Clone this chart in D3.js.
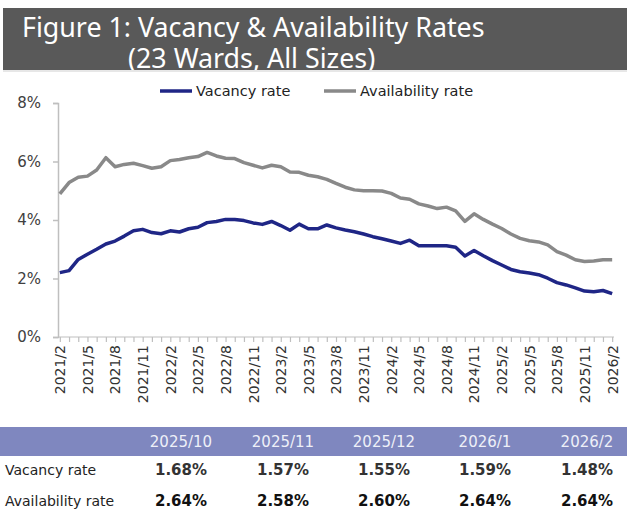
<!DOCTYPE html>
<html>
<head>
<meta charset="utf-8">
<script src="https://cdn.jsdelivr.net/npm/d3@7"></script>
<style>
  body { margin: 0; background: #fff; }
  svg { display: block; }
</style>
</head>
<body>
<div id="chart"></div>
<script>
// monthly categories 2021/2 .. 2026/2
const months = [];
for (let y = 2021, m = 2; y < 2026 || (y === 2026 && m <= 2); m++) {
    if (m > 12) { m = 1; y++; }
    months.push(y + "/" + m);
}

const vacancy = [2.20, 2.27, 2.65, 2.83, 3.00, 3.18, 3.28, 3.45, 3.63, 3.68, 3.57, 3.53, 3.63, 3.59, 3.70,
    3.75, 3.91, 3.95, 4.02, 4.02, 3.98, 3.90, 3.85, 3.95, 3.81, 3.65, 3.86, 3.70, 3.70, 3.83,
    3.73, 3.66, 3.60, 3.52, 3.43, 3.36, 3.28, 3.20, 3.31, 3.12, 3.12, 3.12, 3.12, 3.07, 2.77,
    2.96, 2.78, 2.61, 2.46, 2.31, 2.23, 2.19, 2.13, 2.01, 1.86, 1.78, 1.68, 1.57, 1.55, 1.59, 1.48];

const availability = [4.89, 5.28, 5.46, 5.50, 5.71, 6.13, 5.82, 5.90, 5.94, 5.86, 5.77, 5.82, 6.03, 6.07, 6.13,
    6.17, 6.31, 6.19, 6.11, 6.10, 5.96, 5.87, 5.78, 5.87, 5.82, 5.64, 5.63, 5.53, 5.48, 5.39,
    5.25, 5.12, 5.03, 5.00, 5.00, 4.99, 4.91, 4.75, 4.71, 4.55, 4.48, 4.39, 4.44, 4.31, 3.95,
    4.21, 4.02, 3.86, 3.71, 3.52, 3.37, 3.29, 3.25, 3.15, 2.92, 2.80, 2.64, 2.58, 2.60, 2.64, 2.64];

const yTicks = [0, 2, 4, 6, 8];

const tableMonths = ["2025/10", "2025/11", "2025/12", "2026/1", "2026/2"];
const tableVacancy = ["1.68%", "1.57%", "1.55%", "1.59%", "1.48%"];
const tableAvailability = ["2.64%", "2.58%", "2.60%", "2.64%", "2.64%"];

const W = 627, H = 514;
const svg = d3.select("#chart").append("svg")
    .attr("width", W).attr("height", H);

// title banner
svg.append("clipPath").attr("id", "bannerClip")
    .append("rect").attr("x", 3).attr("y", 8).attr("width", W - 3).attr("height", 62);
svg.append("rect")
    .attr("x", 3).attr("y", 8).attr("width", W - 3).attr("height", 62)
    .attr("fill", "#595959");
svg.append("line")
    .attr("x1", 3).attr("x2", W).attr("y1", 71).attr("y2", 71)
    .attr("stroke", "#cfcfcf");
let title = svg.append("g").attr("clip-path", "url(#bannerClip)")
    .style("font-family", "'Noto Sans', sans-serif")
    .style("font-size", "26.8px")
    .attr("fill", "#fff");
title.append("text").attr("x", 22).attr("y", 37).text("Figure 1: Vacancy & Availability Rates");
title.append("text").attr("x", 128).attr("y", 68).text("(23 Wards, All Sizes)");

// scales
const x = d3.scalePoint().domain(months).range([58, 614]).padding(0.2);
const y = d3.scaleLinear().domain([0, 8]).range([337, 103]);

const axisColor = "#bfbfbf";
const font = "'DejaVu Sans', Verdana, sans-serif";

let yAxis = svg.append("g")
    .attr("transform", "translate(58,0)")
    .call(d3.axisLeft(y).tickValues(yTicks).tickSize(5).tickPadding(12).tickFormat(d => d + "%"));
yAxis.selectAll("path, line").attr("stroke", axisColor).attr("stroke-width", 1.5);
yAxis.selectAll("text").style("font-family", font).style("font-size", "15px").attr("fill", "#404040");

let xAxis = svg.append("g")
    .attr("transform", "translate(0,337)")
    .call(d3.axisBottom(x).tickSize(5).tickFormat((d, i) => i % 3 === 0 ? d : ""));
xAxis.select(".domain").attr("d", "M58,0H614");
xAxis.selectAll("path, line").attr("stroke", axisColor).attr("stroke-width", 1.2);
xAxis.selectAll("text")
    .style("font-family", font).style("font-size", "14px").attr("fill", "#333")
    .attr("text-anchor", "end")
    .attr("transform", "rotate(-90)")
    .attr("x", -8).attr("y", 0).attr("dy", "0.35em");

// lines
let line = d3.line()
    .x((d, i) => x(months[i]))
    .y(d => y(d));

svg.append("path").datum(availability)
    .attr("d", line).attr("fill", "none")
    .attr("stroke", "#898989").attr("stroke-width", 3.5).attr("stroke-linejoin", "round");
svg.append("path").datum(vacancy)
    .attr("d", line).attr("fill", "none")
    .attr("stroke", "#1f2686").attr("stroke-width", 3.5).attr("stroke-linejoin", "round");

// legend
const legend = [
    { name: "Vacancy rate", color: "#1f2686", x: 160 },
    { name: "Availability rate", color: "#898989", x: 324 }
];
let lg = svg.append("g").selectAll("g").data(legend).join("g")
    .attr("transform", d => "translate(" + d.x + ",91)");
lg.append("line").attr("x1", 0).attr("x2", 32)
    .attr("stroke", d => d.color).attr("stroke-width", 3.5);
lg.append("text").attr("x", 36).attr("dy", "0.35em")
    .style("font-family", font).style("font-size", "14.5px").attr("fill", "#222")
    .text(d => d.name);

// table
const colX = [181, 283, 384, 485, 587];
svg.append("rect")
    .attr("x", 0).attr("y", 427).attr("width", W).attr("height", 29)
    .attr("fill", "#7f87bf");
svg.append("g").selectAll("text").data(tableMonths).join("text")
    .attr("x", (d, i) => colX[i]).attr("y", 442).attr("dy", "0.35em")
    .attr("text-anchor", "middle")
    .style("font-family", font).style("font-size", "15px").attr("fill", "#eef0f8")
    .text(d => d);

const rows = [
    { label: "Vacancy rate", vals: tableVacancy, y: 470, color: "#333" },
    { label: "Availability rate", vals: tableAvailability, y: 501, color: "#111" }
];
rows.forEach(r => {
    svg.append("text").attr("x", 5).attr("y", r.y).attr("dy", "0.35em")
        .style("font-family", font).style("font-size", "14px").attr("fill", "#222")
        .text(r.label);
    svg.append("g").selectAll("text").data(r.vals).join("text")
        .attr("x", (d, i) => colX[i]).attr("y", r.y).attr("dy", "0.35em")
        .attr("text-anchor", "middle")
        .style("font-family", font).style("font-size", "15px").style("font-weight", "bold")
        .attr("fill", r.color)
        .text(d => d);
});
</script>
</body>
</html>
